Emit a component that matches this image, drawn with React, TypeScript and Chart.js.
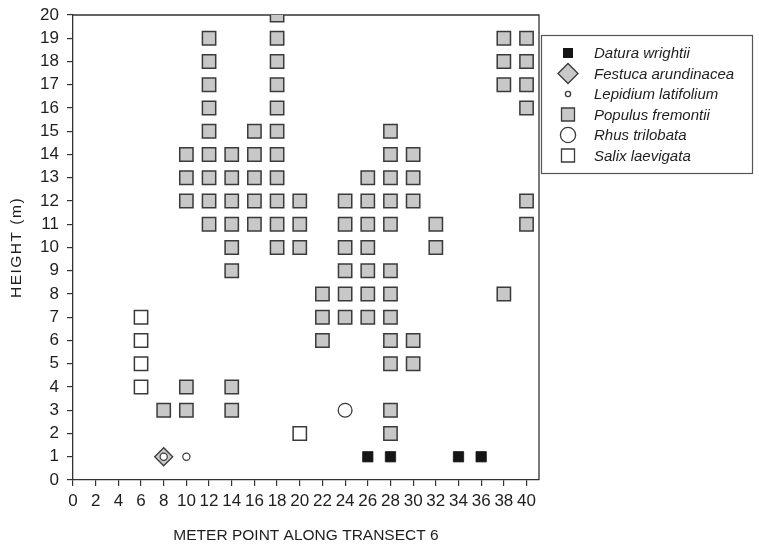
import React, { useEffect, useRef } from 'react';
import { Chart, registerables } from 'chart.js';

Chart.register(...registerables);

// ---- Data ----
const speciesNames = [
  'Datura wrightii',
  'Festuca arundinacea',
  'Lepidium latifolium',
  'Populus fremontii',
  'Rhus trilobata',
  'Salix laevigata',
];

const daturaPts: [number, number][] = [[26, 1], [28, 1], [34, 1], [36, 1]];
const festucaPts: [number, number][] = [[8, 1]];
const lepidiumPts: [number, number][] = [[8, 1], [10, 1]];
const rhusPts: [number, number][] = [[24, 3]];
const salixPts: [number, number][] = [[6, 4], [6, 5], [6, 6], [6, 7], [20, 2]];
const populusPts: [number, number][] = [
  [8, 3],
  [10, 3], [10, 4], [10, 12], [10, 13], [10, 14],
  [12, 11], [12, 12], [12, 13], [12, 14], [12, 15], [12, 16], [12, 17], [12, 18], [12, 19],
  [14, 3], [14, 4], [14, 9], [14, 10], [14, 11], [14, 12], [14, 13], [14, 14],
  [16, 11], [16, 12], [16, 13], [16, 14], [16, 15],
  [18, 10], [18, 11], [18, 12], [18, 13], [18, 14], [18, 15], [18, 16], [18, 17], [18, 18], [18, 19], [18, 20],
  [20, 10], [20, 11], [20, 12],
  [22, 6], [22, 7], [22, 8],
  [24, 7], [24, 8], [24, 9], [24, 10], [24, 11], [24, 12],
  [26, 7], [26, 8], [26, 9], [26, 10], [26, 11], [26, 12], [26, 13],
  [28, 2], [28, 3], [28, 5], [28, 6], [28, 7], [28, 8], [28, 9], [28, 11], [28, 12], [28, 13], [28, 14], [28, 15],
  [30, 5], [30, 6], [30, 12], [30, 13], [30, 14],
  [32, 10], [32, 11],
  [38, 8], [38, 17], [38, 18], [38, 19],
  [40, 11], [40, 12], [40, 16], [40, 17], [40, 18], [40, 19],
];

const xAxisTitle = 'METER POINT ALONG TRANSECT 6';
const yAxisTitle = 'HEIGHT (m)';

const FONT = '"Liberation Sans", Arial, Helvetica, sans-serif';
const GRAY = '#c8c8c8';
const EDGE = '#3a3a3a';
const TEXT = '#1e1e1e';

const toPts = (arr: [number, number][]) => arr.map(([x, y]) => ({ x, y }));

function drawSymbol(ctx: CanvasRenderingContext2D, kind: number, cx: number, cy: number) {
  ctx.save();
  ctx.lineWidth = 1.3;
  ctx.strokeStyle = EDGE;
  ctx.beginPath();
  if (kind === 0) {
    ctx.fillStyle = '#151515';
    ctx.rect(cx - 5, cy - 5, 10, 10);
    ctx.fill();
  } else if (kind === 1) {
    ctx.fillStyle = GRAY;
    ctx.moveTo(cx - 10, cy);
    ctx.lineTo(cx, cy - 10);
    ctx.lineTo(cx + 10, cy);
    ctx.lineTo(cx, cy + 10);
    ctx.closePath();
    ctx.fill();
    ctx.stroke();
  } else if (kind === 2) {
    ctx.fillStyle = '#fff';
    ctx.arc(cx, cy, 2.6, 0, Math.PI * 2);
    ctx.fill();
    ctx.stroke();
  } else if (kind === 3 || kind === 5) {
    ctx.fillStyle = kind === 3 ? GRAY : '#fff';
    ctx.rect(cx - 6.5, cy - 6.5, 13, 13);
    ctx.fill();
    ctx.stroke();
  } else if (kind === 4) {
    ctx.fillStyle = '#fff';
    ctx.arc(cx, cy, 7.6, 0, Math.PI * 2);
    ctx.fill();
    ctx.stroke();
  }
  ctx.restore();
}

const decorPlugin = {
  id: 'decor',
  beforeDatasetsDraw(chart: any) {
    const { ctx, chartArea } = chart;
    ctx.save();
    ctx.strokeStyle = '#333';
    ctx.lineWidth = 1.3;
    ctx.beginPath();
    ctx.moveTo(chartArea.left, chartArea.top);
    ctx.lineTo(chartArea.right, chartArea.top);
    ctx.lineTo(chartArea.right, chartArea.bottom);
    ctx.stroke();
    ctx.restore();
  },
  afterDraw(chart: any) {
    const { ctx, chartArea } = chart;
    ctx.save();
    // axis titles
    ctx.fillStyle = TEXT;
    ctx.font = `15.5px ${FONT}`;
    ctx.textAlign = 'center';
    ctx.textBaseline = 'middle';
    ctx.fillText(xAxisTitle, (chartArea.left + chartArea.right) / 2, 536);
    ctx.save();
    ctx.translate(17, (chartArea.top + chartArea.bottom) / 2);
    ctx.rotate(-Math.PI / 2);
    (ctx as any).letterSpacing = '1.5px';
    ctx.fillText(yAxisTitle, 0, 0);
    ctx.restore();

    // legend
    ctx.strokeStyle = '#555';
    ctx.lineWidth = 1.2;
    ctx.strokeRect(541.5, 35.5, 211, 138);
    ctx.font = `italic 15px ${FONT}`;
    ctx.textAlign = 'left';
    ctx.textBaseline = 'middle';
    speciesNames.forEach((name, i) => {
      const cy = 53 + i * 20.5;
      drawSymbol(ctx, i, 568, cy);
      ctx.fillStyle = TEXT;
      ctx.fillText(name, 594, cy + 1);
    });
    ctx.restore();
  },
};

export default function App() {
  const ref = useRef<HTMLCanvasElement | null>(null);

  useEffect(() => {
    document.body.style.margin = '0';
    const canvas = ref.current;
    if (!canvas) return;
    const chart = new Chart(canvas, {
      type: 'scatter',
      data: {
        datasets: [
          {
            label: speciesNames[0],
            data: toPts(daturaPts),
            pointStyle: 'rect',
            pointRadius: 7.3,
            backgroundColor: '#151515',
            borderColor: '#151515',
            borderWidth: 0.8,
            order: 0,
          },
          {
            label: speciesNames[1],
            data: toPts(festucaPts),
            pointStyle: 'rectRot',
            pointRadius: 9,
            backgroundColor: GRAY,
            borderColor: EDGE,
            borderWidth: 1.3,
            order: 2,
          },
          {
            label: speciesNames[2],
            data: toPts(lepidiumPts),
            pointStyle: 'circle',
            pointRadius: 3.6,
            backgroundColor: '#fff',
            borderColor: EDGE,
            borderWidth: 1.2,
            order: 0,
          },
          {
            label: speciesNames[3],
            data: toPts(populusPts),
            pointStyle: 'rect',
            pointRadius: 9.4,
            backgroundColor: GRAY,
            borderColor: EDGE,
            borderWidth: 1.5,
            order: 1,
          },
          {
            label: speciesNames[4],
            data: toPts(rhusPts),
            pointStyle: 'circle',
            pointRadius: 6.9,
            backgroundColor: '#fff',
            borderColor: EDGE,
            borderWidth: 1.3,
            order: 1,
          },
          {
            label: speciesNames[5],
            data: toPts(salixPts),
            pointStyle: 'rect',
            pointRadius: 9.4,
            backgroundColor: '#fff',
            borderColor: EDGE,
            borderWidth: 1.5,
            order: 1,
          },
        ],
      },
      options: {
        responsive: false,
        animation: false,
        layout: { padding: { top: 15, right: 220, left: 0, bottom: 0 } },
        plugins: {
          legend: { display: false },
          tooltip: { enabled: false },
        },
        elements: { point: { hoverRadius: 0 } as any },
        scales: {
          x: {
            type: 'linear',
            min: 0,
            max: 41.1,
            afterFit: (s: any) => { s.height = 68; s.paddingLeft = 0; s.paddingRight = 0; },
            ticks: {
              stepSize: 2,
              includeBounds: false,
              autoSkip: false,
              maxRotation: 0,
              color: TEXT,
              padding: 5,
              font: { size: 17, family: FONT },
            },
            grid: { drawOnChartArea: false, drawTicks: true, tickLength: 6, color: '#333', lineWidth: 1.2 },
            border: { display: true, color: '#333', width: 1.3 },
          },
          y: {
            type: 'linear',
            min: 0,
            max: 20,
            afterFit: (s: any) => { s.width = 73; s.paddingTop = 0; s.paddingBottom = 0; },
            ticks: {
              stepSize: 1,
              includeBounds: false,
              autoSkip: false,
              color: TEXT,
              padding: 8,
              font: { size: 17, family: FONT },
            },
            grid: { drawOnChartArea: false, drawTicks: true, tickLength: 6, color: '#333', lineWidth: 1.2 },
            border: { display: true, color: '#333', width: 1.3 },
          },
        },
      },
      plugins: [decorPlugin],
    } as any);
    return () => chart.destroy();
  }, []);

  return (
    <div style={{ width: 759, height: 548 }}>
      <canvas ref={ref} width={759} height={548} style={{ display: 'block' }} />
    </div>
  );
}
